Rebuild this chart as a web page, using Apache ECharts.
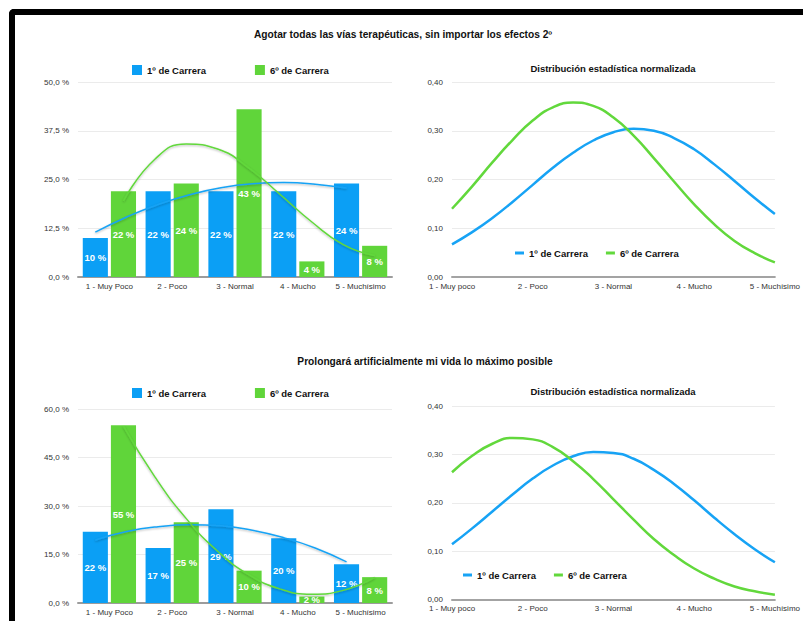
<!DOCTYPE html>
<html>
<head>
<meta charset="utf-8">
<script src="https://cdn.jsdelivr.net/npm/echarts@6/dist/echarts.min.js"></script>
<style>
  html, body { margin: 0; padding: 0; width: 803px; height: 621px; overflow: hidden; background: #fff; }
  .frame { position: absolute; left: 9px; top: 9px; width: 900px; height: 700px;
           border-left: 6px solid #000; border-top: 6px solid #000;
           border-top-left-radius: 5px; box-sizing: border-box; }
  .layer { position: absolute; left: 0; top: 0; width: 803px; height: 621px; }
</style>
</head>
<body>
<div class="frame"></div>
<div id="barA" class="layer"></div>
<div id="normA" class="layer"></div>
<div id="barB" class="layer"></div>
<div id="normB" class="layer"></div>
<script>
// ---- data ----
const categories = ['1 - Muy Poco', '2 - Poco', '3 - Normal', '4 - Mucho', '5 - Muchísimo'];
const normCategories = ['1 - Muy poco', '2 - Poco', '3 - Normal', '4 - Mucho', '5 - Muchísimo'];
const seriesNames = ['1º de Carrera', '6º de Carrera'];

const titleA = 'Agotar todas las vías terapéuticas, sin importar los efectos 2º';
const titleB = 'Prolongará artificialmente mi vida lo máximo posible';
const normTitle = 'Distribución estadística normalizada';

// percentage of answers per category
const aFirst = [10, 22, 22, 22, 24];
const aSixth = [22, 24, 43, 4, 8];
const bFirst = [22, 17, 29, 20, 12];
const bSixth = [55, 25, 10, 2, 8];

// trend lines, sampled every half category from the first to the last bar
const aFirstTrend = [11.5, 15.4, 18.6, 21.1, 22.9, 23.9, 24.2, 23.8, 22.8];
const aSixthTrend = [19.5, 30.2, 34.1, 32.8, 27.9, 21.1, 14.1, 8.3, 5.5];
const bFirstTrend = [19.5, 22.1, 23.6, 24.2, 23.9, 22.5, 20.2, 17.0, 12.7];
const bSixthTrend = [54.7, 39.0, 26.1, 16.0, 8.7, 4.3, 2.7, 3.9, 7.9];

// normalised distribution curves
const normX = [1, 1.25, 1.5, 1.75, 2, 2.25, 2.5, 2.75, 3, 3.25, 3.5, 3.75, 4, 4.25, 4.5, 4.75, 5];
const aFirstNorm = [0.067, 0.092, 0.121, 0.154, 0.189, 0.224, 0.255, 0.280, 0.297, 0.304, 0.300, 0.285, 0.262, 0.231, 0.197, 0.162, 0.129];
const aSixthNorm = [0.140, 0.186, 0.235, 0.281, 0.321, 0.348, 0.358, 0.351, 0.327, 0.290, 0.244, 0.196, 0.149, 0.108, 0.074, 0.049, 0.030];
const bFirstNorm = [0.114, 0.147, 0.182, 0.217, 0.250, 0.277, 0.296, 0.305, 0.303, 0.291, 0.268, 0.239, 0.205, 0.169, 0.135, 0.104, 0.077];
const bSixthNorm = [0.263, 0.297, 0.322, 0.334, 0.331, 0.315, 0.286, 0.249, 0.207, 0.165, 0.125, 0.092, 0.064, 0.043, 0.027, 0.017, 0.010];

// axis ranges
const pctAxisA = { max: 50, step: 12.5 };
const pctAxisB = { max: 60, step: 15 };
const normAxis = { max: 0.4, step: 0.1 };

// ---- styling ----
const FONT = '"Liberation Sans", Arial, Helvetica, sans-serif';
const BLUE = '#0b9ff5';
const GREEN = '#60d53a';
const LINE_BLUE = '#17a3f5';
const LINE_GREEN = '#62d83c';
const BAR_W = 0.4;     // share of a category taken by one bar
const BAR_GAP = 0.12;  // gap between the two bars, relative to bar width
const BAR_SHIFT = BAR_W * (1 + BAR_GAP) / 2;

const pctLabel = v => v.toFixed(1).replace('.', ',') + ' %';
const decLabel = v => v.toFixed(2).replace('.', ',');

function trendPoints(values, shift) {
  return values.map((v, i) => [i * 0.5 + 0.5 + shift, v]);
}

function barChart(id, cfg) {
  const chart = echarts.init(document.getElementById(id), null, { renderer: 'svg' });
  const barLabel = {
    show: true, position: 'inside', formatter: '{c} %',
    color: '#fff', fontWeight: 'bold', fontSize: 9.5, fontFamily: FONT
  };
  const trendStyle = color => ({
    color, width: 1.5,
    shadowColor: 'rgba(0,0,0,0.28)', shadowBlur: 2, shadowOffsetY: 1
  });
  chart.setOption({
    animation: false,
    textStyle: { fontFamily: FONT },
    graphic: [{
      type: 'text', x: cfg.titleX, y: cfg.titleY,
      style: { text: cfg.title, font: 'bold 10.2px ' + FONT, fill: '#111',
               align: 'center', verticalAlign: 'middle' }
    }],
    legend: {
      left: 127, top: cfg.legendTop, icon: 'rect', itemWidth: 10, itemHeight: 10, itemGap: 49,
      textStyle: { fontSize: 9.5, fontWeight: 'bold', color: '#111', fontFamily: FONT },
      data: seriesNames
    },
    grid: { left: 78, top: cfg.top, width: 314, height: cfg.height },
    xAxis: [{
      type: 'category', data: categories,
      axisTick: { show: false },
      axisLine: { lineStyle: { color: '#9c9c9c', width: 2 } },
      axisLabel: { fontSize: 8, color: '#333', margin: 5, interval: 0 }
    }, {
      type: 'value', min: 0, max: 5, show: false
    }],
    yAxis: {
      type: 'value', min: 0, max: cfg.axis.max, interval: cfg.axis.step,
      axisLine: { show: false }, axisTick: { show: false },
      axisLabel: { formatter: pctLabel, fontSize: 8, color: '#333', margin: 9 },
      splitLine: { lineStyle: { color: '#ebebeb', width: 1 } }
    },
    series: [
      { type: 'bar', name: seriesNames[0], data: cfg.first, barWidth: (BAR_W * 100) + '%',
        barGap: (BAR_GAP * 100) + '%', itemStyle: { color: BLUE }, label: barLabel },
      { type: 'bar', name: seriesNames[1], data: cfg.sixth, barWidth: (BAR_W * 100) + '%',
        barGap: (BAR_GAP * 100) + '%', itemStyle: { color: GREEN }, label: barLabel },
      { type: 'line', xAxisIndex: 1, data: trendPoints(cfg.firstTrend, -BAR_SHIFT),
        smooth: true, showSymbol: false, silent: true, lineStyle: trendStyle(LINE_BLUE), z: 3 },
      { type: 'line', xAxisIndex: 1, data: trendPoints(cfg.sixthTrend, BAR_SHIFT),
        smooth: true, showSymbol: false, silent: true, lineStyle: trendStyle(LINE_GREEN), z: 3 }
    ]
  });
}

function normChart(id, cfg) {
  const chart = echarts.init(document.getElementById(id), null, { renderer: 'svg' });
  const pts = vals => normX.map((x, i) => [x, vals[i]]);
  chart.setOption({
    animation: false,
    textStyle: { fontFamily: FONT },
    graphic: [{
      type: 'text', x: 613, y: cfg.titleY,
      style: { text: normTitle, font: 'bold 9.5px ' + FONT, fill: '#111',
               align: 'center', verticalAlign: 'middle' }
    }],
    legend: {
      left: cfg.legendLeft, top: cfg.legendTop, icon: 'rect', itemWidth: 9, itemHeight: 3, itemGap: 18,
      textStyle: { fontSize: 9.5, fontWeight: 'bold', color: '#111', fontFamily: FONT },
      data: seriesNames
    },
    grid: { left: 452, top: cfg.top, width: 323, height: cfg.height },
    xAxis: {
      type: 'value', min: 1, max: 5, interval: 1,
      axisTick: { show: false }, splitLine: { show: false },
      axisLine: { lineStyle: { color: '#a3a3a3', width: 2 } },
      axisLabel: { formatter: v => normCategories[v - 1], fontSize: 8, color: '#333', margin: 5 }
    },
    yAxis: {
      type: 'value', min: 0, max: normAxis.max, interval: normAxis.step,
      axisLine: { show: false }, axisTick: { show: false },
      axisLabel: { formatter: decLabel, fontSize: 8, color: '#333', margin: 9 },
      splitLine: { lineStyle: { color: '#ebebeb', width: 1 } }
    },
    series: [
      { type: 'line', name: seriesNames[0], data: pts(cfg.first), smooth: true, showSymbol: false,
        color: LINE_BLUE, lineStyle: { color: LINE_BLUE, width: 2.5 } },
      { type: 'line', name: seriesNames[1], data: pts(cfg.sixth), smooth: true, showSymbol: false,
        color: LINE_GREEN, lineStyle: { color: LINE_GREEN, width: 2.5 } }
    ]
  });
}

barChart('barA', {
  title: titleA, titleX: 403, titleY: 34, legendTop: 60,
  top: 82, height: 195, axis: pctAxisA,
  first: aFirst, sixth: aSixth, firstTrend: aFirstTrend, sixthTrend: aSixthTrend
});
normChart('normA', {
  titleY: 68, top: 82, height: 195, legendLeft: 510, legendTop: 243,
  first: aFirstNorm, sixth: aSixthNorm
});
barChart('barB', {
  title: titleB, titleX: 425, titleY: 361.5, legendTop: 383,
  top: 409, height: 194, axis: pctAxisB,
  first: bFirst, sixth: bSixth, firstTrend: bFirstTrend, sixthTrend: bSixthTrend
});
normChart('normB', {
  titleY: 391, top: 406, height: 193.5, legendLeft: 458, legendTop: 565,
  first: bFirstNorm, sixth: bSixthNorm
});
</script>
</body>
</html>
